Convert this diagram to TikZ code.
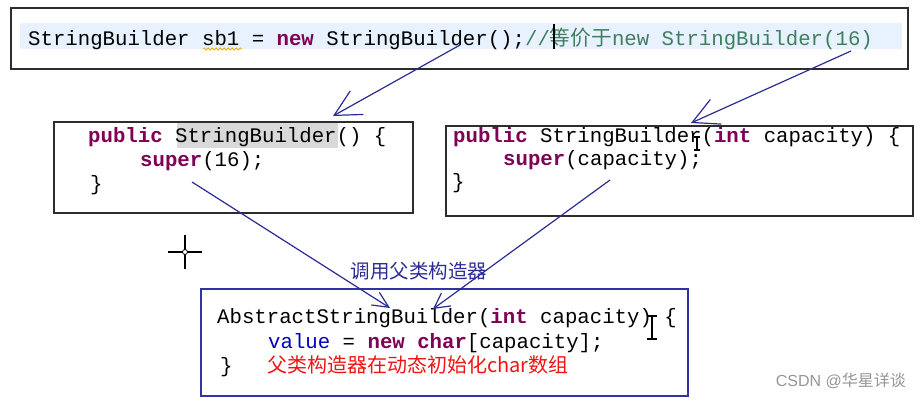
\documentclass[tikz,border=0pt]{standalone}
\usepackage{fontspec}
\setmainfont{Liberation Sans}
\setmonofont{Liberation Mono}
\newfontfamily\cjk{Noto Sans CJK SC}
\usetikzlibrary{arrows.meta, positioning, decorations.pathmorphing}
\definecolor{kwpurple}{RGB}{127, 0, 85}
\definecolor{cmtgreen}{RGB}{63, 127, 95}
\definecolor{fieldblue}{RGB}{0, 0, 192}
\definecolor{callblue}{RGB}{44, 44, 150}
\definecolor{boxgray}{RGB}{45, 45, 45}
\definecolor{boxblue}{RGB}{50, 50, 165}
\definecolor{linebg}{RGB}{232, 242, 255}
\definecolor{selgray}{RGB}{217, 217, 217}
\definecolor{warnyellow}{RGB}{225, 180, 0}
\definecolor{notered}{RGB}{240, 20, 20}
\definecolor{markgray}{RGB}{150, 150, 150}
\newcommand\codefont{\ttfamily\fontsize{20.7pt}{25pt}\selectfont}
\newcommand\javakw[1]{{\bfseries\color{kwpurple}#1}}
\newcommand\javacmt[1]{{\color{cmtgreen}#1}}
\tikzset{
  % Code panels.
  codebox/.style={
    rectangle, draw=boxgray, line width=1.6pt,
    inner sep=0pt, anchor=north west,
  },
  superbox/.style={codebox, draw=boxblue},
  % One line of source text, placed on its baseline.
  codeline/.style={font=\codefont, anchor=base west, inner sep=0pt, text=black},
  % Calls between constructors.
  call/.style 2 args={
    -{Straight Barb[length=#1, width=#2]},
    line width=1.2pt, draw=callblue,
  },
  % Editor cursors.
  cursor/.style={draw=black, line width=1.4pt},
}

\begin{document}
\begin{tikzpicture}[x=1pt, y=-1pt]
  \fill[white] (0,0) rectangle (920,400);
  \useasboundingbox (0,0) rectangle (920,400);

  % Declaration at the top.
  \fill[linebg] (20,23) rectangle (902,49);
  \node[codebox, minimum width=897pt, minimum height=61pt] (decl) at (10,7) {};
  \node[codeline] (decl-code) at (28,45)
    {StringBuilder sb1 = \javakw{new} StringBuilder();\javacmt{//{\cjk 等价于}new StringBuilder(16)}};
  \draw[warnyellow, line width=0.8pt, decorate,
        decoration={snake, amplitude=1pt, segment length=4pt}] (203,49) -- (242,49);
  \draw[black, line width=2pt] (554,24) -- (554,49);

  % The two StringBuilder constructors.
  \fill[selgray] (177,123) rectangle (338,148);
  \node[codebox, minimum width=359pt, minimum height=91pt] (noarg) at (53,121) {};
  \node[codeline] (noarg-l1) at (88,142) {\javakw{public} StringBuilder() \{};
  \node[codeline] (noarg-l2) at (140,166) {\javakw{super}(16);};
  \node[codeline] (noarg-l3) at (90,190) {\}};

  \node[codebox, minimum width=467pt, minimum height=90pt] (witharg) at (445,125) {};
  \node[codeline] (witharg-l1) at (453,142) {\javakw{public} StringBuilder(\javakw{int} capacity) \{};
  \node[codeline] (witharg-l2) at (503,165) {\javakw{super}(capacity);};
  \node[codeline] (witharg-l3) at (452,188) {\}};

  % Parent constructor.
  \node[superbox, minimum width=487pt, minimum height=107pt] (parent) at (200,288) {};
  \node[codeline] (parent-l1) at (217,323) {AbstractStringBuilder(\javakw{int} capacity) \{};
  \node[codeline] (parent-l2) at (268,348) {{\color{fieldblue}value} = \javakw{new} \javakw{char}[capacity];};
  \node[codeline] (parent-l3) at (220,372) {\}};
  \node[anchor=base west, inner sep=0pt, font=\cjk\fontsize{20pt}{24pt}\selectfont,
        text=notered] (parent-note) at (267,372) {父类构造器在动态初始化char数组};

  % Call arrows.
  \coordinate (decl-new) at (460,45);
  \coordinate (decl-cmt) at (851,51);
  \coordinate (noarg-in) at (333,116);
  \coordinate (witharg-in) at (691,123);
  \coordinate (noarg-super) at (192,182);
  \coordinate (witharg-super) at (610,180);
  \coordinate (parent-in1) at (390,308);
  \coordinate (parent-in2) at (433,309);
  \draw[call={26pt}{27pt}] (decl-new) -- (noarg-in);
  \draw[call={26pt}{27pt}] (decl-cmt) -- (witharg-in);
  \draw[call={16pt}{15pt}] (noarg-super) -- (parent-in1);
  \draw[call={15pt}{16pt}] (witharg-super) -- (parent-in2);
  \node[font=\cjk\fontsize{19.5pt}{22pt}\selectfont, text=callblue,
        inner sep=0pt] (calllabel) at (419,271) {调用父类构造器};

  % Mouse cursors left in the screenshot.
  \draw[cursor] (168,252) -- (202,252) (185,235) -- (185,269);
  \draw[black, fill=white, line width=0.8pt] (185,252) circle (2.5pt);
  \draw[cursor, line width=1.1pt] (697,137) -- (697,150)
    (694,137) -- (700,137) (694,150) -- (700,150);
  \draw[cursor] (652,316) -- (652,339)
    (647,316) -- (657,316) (647,339) -- (657,339);

  % Watermark.
  \node[font=\fontsize{16pt}{18pt}\selectfont, text=markgray, anchor=east,
        inner sep=0pt] (mark) at (906,381) {CSDN @{\cjk 华星详谈}};
\end{tikzpicture}
\end{document}
